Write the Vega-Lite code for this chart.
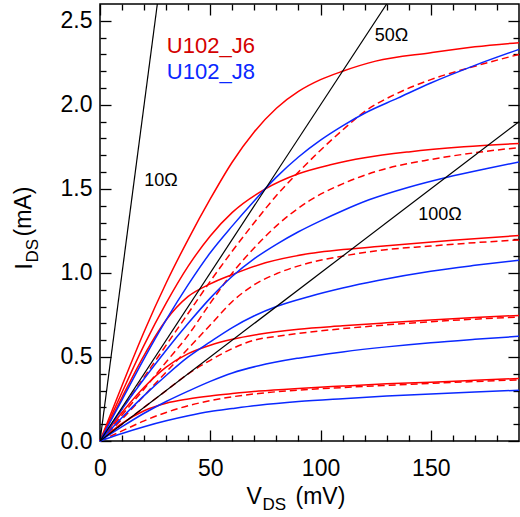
{
  "$schema": "https://vega.github.io/schema/vega-lite/v6.json",
  "width": 419,
  "height": 437,
  "autosize": "none",
  "padding": {"left": 100, "top": 4, "right": 1, "bottom": 76},
  "config": {
    "view": {"stroke": "black", "strokeWidth": 1.5},
    "axis": {
      "domain": false, "grid": false, "tickColor": "black", "tickWidth": 1.3,
      "labelFont": "Liberation Sans", "labelFontSize": 23, "labelColor": "black",
      "titleFont": "Liberation Sans", "titleFontSize": 23, "titleFontWeight": "normal", "titleColor": "black",
      "labelFlush": false, "labelOverlap": false
    }
  },
  "datasets": {
    "curves": [
      {"s":"J6","c":"R1","V":0,"I":0},{"s":"J6","c":"R1","V":5,"I":0.165},{"s":"J6","c":"R1","V":10,"I":0.33},{"s":"J6","c":"R1","V":20,"I":0.65},{"s":"J6","c":"R1","V":30,"I":0.94},{"s":"J6","c":"R1","V":40,"I":1.2},{"s":"J6","c":"R1","V":50,"I":1.44},{"s":"J6","c":"R1","V":60,"I":1.66},{"s":"J6","c":"R1","V":70,"I":1.84},{"s":"J6","c":"R1","V":80,"I":1.98},{"s":"J6","c":"R1","V":90,"I":2.08},{"s":"J6","c":"R1","V":100,"I":2.15},{"s":"J6","c":"R1","V":110,"I":2.2},{"s":"J6","c":"R1","V":125,"I":2.26},{"s":"J6","c":"R1","V":150,"I":2.31},{"s":"J6","c":"R1","V":170,"I":2.345},{"s":"J6","c":"R1","V":190,"I":2.37},
      {"s":"J6","c":"R2","V":0,"I":0},{"s":"J6","c":"R2","V":10,"I":0.29},{"s":"J6","c":"R2","V":20,"I":0.57},{"s":"J6","c":"R2","V":30,"I":0.82},{"s":"J6","c":"R2","V":40,"I":1.04},{"s":"J6","c":"R2","V":50,"I":1.22},{"s":"J6","c":"R2","V":60,"I":1.36},{"s":"J6","c":"R2","V":75,"I":1.5},{"s":"J6","c":"R2","V":90,"I":1.59},{"s":"J6","c":"R2","V":105,"I":1.645},{"s":"J6","c":"R2","V":120,"I":1.685},{"s":"J6","c":"R2","V":140,"I":1.72},{"s":"J6","c":"R2","V":165,"I":1.75},{"s":"J6","c":"R2","V":190,"I":1.77},
      {"s":"J6","c":"R3","V":0,"I":0},{"s":"J6","c":"R3","V":10,"I":0.26},{"s":"J6","c":"R3","V":20,"I":0.51},{"s":"J6","c":"R3","V":30,"I":0.72},{"s":"J6","c":"R3","V":40,"I":0.86},{"s":"J6","c":"R3","V":50,"I":0.935},{"s":"J6","c":"R3","V":60,"I":0.99},{"s":"J6","c":"R3","V":75,"I":1.06},{"s":"J6","c":"R3","V":95,"I":1.115},{"s":"J6","c":"R3","V":126,"I":1.157},{"s":"J6","c":"R3","V":160,"I":1.195},{"s":"J6","c":"R3","V":190,"I":1.222},
      {"s":"J6","c":"R4","V":0,"I":0},{"s":"J6","c":"R4","V":10,"I":0.17},{"s":"J6","c":"R4","V":20,"I":0.32},{"s":"J6","c":"R4","V":30,"I":0.44},{"s":"J6","c":"R4","V":40,"I":0.52},{"s":"J6","c":"R4","V":50,"I":0.57},{"s":"J6","c":"R4","V":60,"I":0.605},{"s":"J6","c":"R4","V":72,"I":0.635},{"s":"J6","c":"R4","V":90,"I":0.665},{"s":"J6","c":"R4","V":110,"I":0.685},{"s":"J6","c":"R4","V":130,"I":0.703},{"s":"J6","c":"R4","V":150,"I":0.72},{"s":"J6","c":"R4","V":170,"I":0.735},{"s":"J6","c":"R4","V":190,"I":0.747},
      {"s":"J6","c":"R5","V":0,"I":0},{"s":"J6","c":"R5","V":5,"I":0.055},{"s":"J6","c":"R5","V":10,"I":0.105},{"s":"J6","c":"R5","V":20,"I":0.18},{"s":"J6","c":"R5","V":30,"I":0.225},{"s":"J6","c":"R5","V":40,"I":0.25},{"s":"J6","c":"R5","V":50,"I":0.268},{"s":"J6","c":"R5","V":60,"I":0.282},{"s":"J6","c":"R5","V":72,"I":0.297},{"s":"J6","c":"R5","V":90,"I":0.313},{"s":"J6","c":"R5","V":110,"I":0.327},{"s":"J6","c":"R5","V":130,"I":0.34},{"s":"J6","c":"R5","V":150,"I":0.35},{"s":"J6","c":"R5","V":170,"I":0.361},{"s":"J6","c":"R5","V":190,"I":0.372},
      {"s":"J6d","c":"D1","V":0,"I":0},{"s":"J6d","c":"D1","V":10,"I":0.19},{"s":"J6d","c":"D1","V":20,"I":0.38},{"s":"J6d","c":"D1","V":30,"I":0.57},{"s":"J6d","c":"D1","V":40,"I":0.76},{"s":"J6d","c":"D1","V":50,"I":0.95},{"s":"J6d","c":"D1","V":60,"I":1.13},{"s":"J6d","c":"D1","V":70,"I":1.3},{"s":"J6d","c":"D1","V":80,"I":1.46},{"s":"J6d","c":"D1","V":90,"I":1.6},{"s":"J6d","c":"D1","V":100,"I":1.73},{"s":"J6d","c":"D1","V":110,"I":1.85},{"s":"J6d","c":"D1","V":120,"I":1.96},{"s":"J6d","c":"D1","V":135,"I":2.07},{"s":"J6d","c":"D1","V":150,"I":2.15},{"s":"J6d","c":"D1","V":170,"I":2.23},{"s":"J6d","c":"D1","V":190,"I":2.3},
      {"s":"J6d","c":"D2","V":0,"I":0},{"s":"J6d","c":"D2","V":10,"I":0.155},{"s":"J6d","c":"D2","V":20,"I":0.31},{"s":"J6d","c":"D2","V":30,"I":0.47},{"s":"J6d","c":"D2","V":40,"I":0.63},{"s":"J6d","c":"D2","V":50,"I":0.82},{"s":"J6d","c":"D2","V":60,"I":1.0},{"s":"J6d","c":"D2","V":70,"I":1.15},{"s":"J6d","c":"D2","V":80,"I":1.28},{"s":"J6d","c":"D2","V":95,"I":1.43},{"s":"J6d","c":"D2","V":110,"I":1.53},{"s":"J6d","c":"D2","V":126,"I":1.607},{"s":"J6d","c":"D2","V":150,"I":1.675},{"s":"J6d","c":"D2","V":170,"I":1.715},{"s":"J6d","c":"D2","V":190,"I":1.746},
      {"s":"J6d","c":"D3","V":0,"I":0},{"s":"J6d","c":"D3","V":10,"I":0.13},{"s":"J6d","c":"D3","V":20,"I":0.27},{"s":"J6d","c":"D3","V":30,"I":0.41},{"s":"J6d","c":"D3","V":40,"I":0.55},{"s":"J6d","c":"D3","V":50,"I":0.69},{"s":"J6d","c":"D3","V":60,"I":0.83},{"s":"J6d","c":"D3","V":70,"I":0.93},{"s":"J6d","c":"D3","V":80,"I":0.995},{"s":"J6d","c":"D3","V":95,"I":1.06},{"s":"J6d","c":"D3","V":110,"I":1.1},{"s":"J6d","c":"D3","V":126,"I":1.133},{"s":"J6d","c":"D3","V":150,"I":1.16},{"s":"J6d","c":"D3","V":170,"I":1.18},{"s":"J6d","c":"D3","V":190,"I":1.196},
      {"s":"J6d","c":"D4","V":0,"I":0},{"s":"J6d","c":"D4","V":10,"I":0.1},{"s":"J6d","c":"D4","V":20,"I":0.2},{"s":"J6d","c":"D4","V":30,"I":0.3},{"s":"J6d","c":"D4","V":40,"I":0.4},{"s":"J6d","c":"D4","V":50,"I":0.48},{"s":"J6d","c":"D4","V":60,"I":0.55},{"s":"J6d","c":"D4","V":70,"I":0.6},{"s":"J6d","c":"D4","V":80,"I":0.622},{"s":"J6d","c":"D4","V":100,"I":0.655},{"s":"J6d","c":"D4","V":120,"I":0.68},{"s":"J6d","c":"D4","V":150,"I":0.71},{"s":"J6d","c":"D4","V":170,"I":0.725},{"s":"J6d","c":"D4","V":190,"I":0.737},
      {"s":"J6d","c":"D5","V":0,"I":0},{"s":"J6d","c":"D5","V":10,"I":0.06},{"s":"J6d","c":"D5","V":20,"I":0.12},{"s":"J6d","c":"D5","V":30,"I":0.17},{"s":"J6d","c":"D5","V":40,"I":0.21},{"s":"J6d","c":"D5","V":50,"I":0.24},{"s":"J6d","c":"D5","V":60,"I":0.263},{"s":"J6d","c":"D5","V":72,"I":0.283},{"s":"J6d","c":"D5","V":90,"I":0.303},{"s":"J6d","c":"D5","V":110,"I":0.318},{"s":"J6d","c":"D5","V":130,"I":0.331},{"s":"J6d","c":"D5","V":150,"I":0.343},{"s":"J6d","c":"D5","V":170,"I":0.354},{"s":"J6d","c":"D5","V":190,"I":0.364},
      {"s":"J8","c":"B1","V":0,"I":0},{"s":"J8","c":"B1","V":10,"I":0.245},{"s":"J8","c":"B1","V":20,"I":0.49},{"s":"J8","c":"B1","V":30,"I":0.72},{"s":"J8","c":"B1","V":40,"I":0.93},{"s":"J8","c":"B1","V":50,"I":1.12},{"s":"J8","c":"B1","V":60,"I":1.28},{"s":"J8","c":"B1","V":70,"I":1.43},{"s":"J8","c":"B1","V":80,"I":1.57},{"s":"J8","c":"B1","V":90,"I":1.69},{"s":"J8","c":"B1","V":100,"I":1.79},{"s":"J8","c":"B1","V":110,"I":1.875},{"s":"J8","c":"B1","V":120,"I":1.95},{"s":"J8","c":"B1","V":135,"I":2.04},{"s":"J8","c":"B1","V":150,"I":2.13},{"s":"J8","c":"B1","V":170,"I":2.235},{"s":"J8","c":"B1","V":190,"I":2.33},
      {"s":"J8","c":"B2","V":0,"I":0},{"s":"J8","c":"B2","V":10,"I":0.19},{"s":"J8","c":"B2","V":20,"I":0.37},{"s":"J8","c":"B2","V":30,"I":0.54},{"s":"J8","c":"B2","V":40,"I":0.7},{"s":"J8","c":"B2","V":50,"I":0.85},{"s":"J8","c":"B2","V":60,"I":0.98},{"s":"J8","c":"B2","V":70,"I":1.085},{"s":"J8","c":"B2","V":80,"I":1.17},{"s":"J8","c":"B2","V":90,"I":1.245},{"s":"J8","c":"B2","V":100,"I":1.31},{"s":"J8","c":"B2","V":110,"I":1.37},{"s":"J8","c":"B2","V":122,"I":1.435},{"s":"J8","c":"B2","V":140,"I":1.51},{"s":"J8","c":"B2","V":157,"I":1.568},{"s":"J8","c":"B2","V":175,"I":1.62},{"s":"J8","c":"B2","V":190,"I":1.66},
      {"s":"J8","c":"B3","V":0,"I":0},{"s":"J8","c":"B3","V":10,"I":0.14},{"s":"J8","c":"B3","V":20,"I":0.27},{"s":"J8","c":"B3","V":30,"I":0.39},{"s":"J8","c":"B3","V":40,"I":0.5},{"s":"J8","c":"B3","V":50,"I":0.59},{"s":"J8","c":"B3","V":60,"I":0.675},{"s":"J8","c":"B3","V":70,"I":0.745},{"s":"J8","c":"B3","V":80,"I":0.8},{"s":"J8","c":"B3","V":95,"I":0.86},{"s":"J8","c":"B3","V":110,"I":0.91},{"s":"J8","c":"B3","V":126,"I":0.955},{"s":"J8","c":"B3","V":150,"I":1.01},{"s":"J8","c":"B3","V":170,"I":1.045},{"s":"J8","c":"B3","V":190,"I":1.076},
      {"s":"J8","c":"B4","V":0,"I":0},{"s":"J8","c":"B4","V":10,"I":0.085},{"s":"J8","c":"B4","V":20,"I":0.165},{"s":"J8","c":"B4","V":30,"I":0.235},{"s":"J8","c":"B4","V":40,"I":0.297},{"s":"J8","c":"B4","V":50,"I":0.355},{"s":"J8","c":"B4","V":60,"I":0.405},{"s":"J8","c":"B4","V":72,"I":0.448},{"s":"J8","c":"B4","V":90,"I":0.493},{"s":"J8","c":"B4","V":110,"I":0.53},{"s":"J8","c":"B4","V":130,"I":0.56},{"s":"J8","c":"B4","V":150,"I":0.585},{"s":"J8","c":"B4","V":170,"I":0.605},{"s":"J8","c":"B4","V":190,"I":0.623},
      {"s":"J8","c":"B5","V":0,"I":0},{"s":"J8","c":"B5","V":10,"I":0.045},{"s":"J8","c":"B5","V":20,"I":0.085},{"s":"J8","c":"B5","V":30,"I":0.12},{"s":"J8","c":"B5","V":40,"I":0.15},{"s":"J8","c":"B5","V":50,"I":0.175},{"s":"J8","c":"B5","V":60,"I":0.193},{"s":"J8","c":"B5","V":72,"I":0.213},{"s":"J8","c":"B5","V":90,"I":0.235},{"s":"J8","c":"B5","V":110,"I":0.252},{"s":"J8","c":"B5","V":130,"I":0.267},{"s":"J8","c":"B5","V":150,"I":0.28},{"s":"J8","c":"B5","V":170,"I":0.292},{"s":"J8","c":"B5","V":190,"I":0.302}
    ],
    "res": [
      {"R":"10Ω","V":0,"I":0},{"R":"10Ω","V":26,"I":2.6},
      {"R":"50Ω","V":0,"I":0},{"R":"50Ω","V":130,"I":2.6},
      {"R":"100Ω","V":0,"I":0},{"R":"100Ω","V":190,"I":1.9}
    ],
    "rlabels": [
      {"t":"10Ω","V":27.6,"I":1.548},
      {"t":"50Ω","V":132.2,"I":2.408},
      {"t":"100Ω","V":154.2,"I":1.343}
    ],
    "legend": [
      {"t":"U102_J6","col":"J6","V":30.3,"I":2.307},
      {"t":"U102_J8","col":"J8","V":30.3,"I":2.153}
    ]
  },
  "layer": [
    {
      "data": {"name": "curves"},
      "transform": [{"filter": "datum.s === 'J6'"}],
      "mark": {"type": "line", "interpolate": "monotone", "strokeWidth": 1.5, "color": "#ff0000"},
      "encoding": {
        "x": {"field": "V", "type": "quantitative", "scale": {"domain": [0, 190], "nice": false},
          "axis": {"orient": "bottom", "values": [0, 50, 100, 150], "tickSize": -11, "labelPadding": 27,
            "title": "V", "titleX": 146, "titleY": 62, "titleAlign": "left", "titleBaseline": "alphabetic", "titleAngle": 0}},
        "y": {"field": "I", "type": "quantitative", "scale": {"domain": [0, 2.6], "nice": false},
          "axis": {"orient": "left", "values": [0, 0.5, 1, 1.5, 2, 2.5], "format": ".1f", "tickSize": -11, "labelPadding": 19,
            "title": "I", "titleX": -69, "titleY": 265, "titleAlign": "left", "titleBaseline": "alphabetic", "titleAngle": 270}},
        "detail": {"field": "c"}
      }
    },
    {
      "data": {"name": "curves"},
      "transform": [{"filter": "datum.s === 'J6d'"}],
      "mark": {"type": "line", "interpolate": "monotone", "strokeWidth": 1.5, "color": "#ff0000", "strokeDash": [7, 4]},
      "encoding": {
        "x": {"field": "V", "type": "quantitative", "scale": {"domain": [0, 190], "nice": false},
          "axis": {"orient": "bottom", "values": [10, 20, 30, 40, 60, 70, 80, 90, 110, 120, 130, 140, 160, 170, 180], "tickSize": -6, "labels": false,
            "title": "DS", "titleFontSize": 17, "titleX": 162, "titleY": 68, "titleAlign": "left", "titleBaseline": "alphabetic", "titleAngle": 0}},
        "y": {"field": "I", "type": "quantitative", "scale": {"domain": [0, 2.6], "nice": false},
          "axis": {"orient": "left", "values": [0.1, 0.2, 0.3, 0.4, 0.6, 0.7, 0.8, 0.9, 1.1, 1.2, 1.3, 1.4, 1.6, 1.7, 1.8, 1.9, 2.1, 2.2, 2.3, 2.4], "tickSize": -6, "labels": false,
            "title": "DS", "titleFontSize": 17, "titleX": -63, "titleY": 258, "titleAlign": "left", "titleBaseline": "alphabetic", "titleAngle": 270}},
        "detail": {"field": "c"}
      }
    },
    {
      "data": {"name": "curves"},
      "transform": [{"filter": "datum.s === 'J8'"}],
      "mark": {"type": "line", "interpolate": "monotone", "strokeWidth": 1.5, "color": "#0a28ff"},
      "encoding": {
        "x": {"field": "V", "type": "quantitative", "scale": {"domain": [0, 190], "nice": false},
          "axis": {"orient": "bottom", "ticks": false, "labels": false,
            "title": "(mV)", "titleX": 195, "titleY": 62, "titleAlign": "left", "titleBaseline": "alphabetic", "titleAngle": 0}},
        "y": {"field": "I", "type": "quantitative", "scale": {"domain": [0, 2.6], "nice": false},
          "axis": {"orient": "left", "ticks": false, "labels": false,
            "title": "(mA)", "titleX": -70, "titleY": 232, "titleAlign": "left", "titleBaseline": "alphabetic", "titleAngle": 270}},
        "detail": {"field": "c"}
      }
    },
    {
      "data": {"name": "res"},
      "mark": {"type": "line", "strokeWidth": 1.2, "color": "black", "clip": true},
      "encoding": {
        "x": {"field": "V", "type": "quantitative", "scale": {"domain": [0, 190], "nice": false},
          "axis": {"orient": "top", "values": [0, 50, 100, 150], "tickSize": -11, "labels": false, "title": null}},
        "y": {"field": "I", "type": "quantitative", "scale": {"domain": [0, 2.6], "nice": false},
          "axis": {"orient": "right", "values": [0, 0.5, 1, 1.5, 2, 2.5], "tickSize": -11, "labels": false, "title": null}},
        "detail": {"field": "R"}
      }
    },
    {
      "data": {"name": "rlabels"},
      "mark": {"type": "text", "font": "Liberation Sans", "fontSize": 18, "align": "center", "baseline": "middle", "color": "black"},
      "encoding": {
        "x": {"field": "V", "type": "quantitative", "scale": {"domain": [0, 190], "nice": false},
          "axis": {"orient": "top", "values": [10, 20, 30, 40, 60, 70, 80, 90, 110, 120, 130, 140, 160, 170, 180], "tickSize": -6, "labels": false, "title": null}},
        "y": {"field": "I", "type": "quantitative", "scale": {"domain": [0, 2.6], "nice": false},
          "axis": {"orient": "right", "values": [0.1, 0.2, 0.3, 0.4, 0.6, 0.7, 0.8, 0.9, 1.1, 1.2, 1.3, 1.4, 1.6, 1.7, 1.8, 1.9, 2.1, 2.2, 2.3, 2.4], "tickSize": -6, "labels": false, "title": null}},
        "text": {"field": "t"}
      }
    },
    {
      "data": {"name": "legend"},
      "mark": {"type": "text", "font": "Liberation Sans", "fontSize": 22, "align": "left", "baseline": "alphabetic"},
      "encoding": {
        "x": {"field": "V", "type": "quantitative", "scale": {"domain": [0, 190], "nice": false}, "axis": null},
        "y": {"field": "I", "type": "quantitative", "scale": {"domain": [0, 2.6], "nice": false}, "axis": null},
        "text": {"field": "t"},
        "color": {"field": "col", "type": "nominal", "scale": {"domain": ["J6", "J8"], "range": ["#d40000", "#0a28ff"]}, "legend": null}
      }
    }
  ],
  "resolve": {"axis": {"x": "independent", "y": "independent"}}
}
